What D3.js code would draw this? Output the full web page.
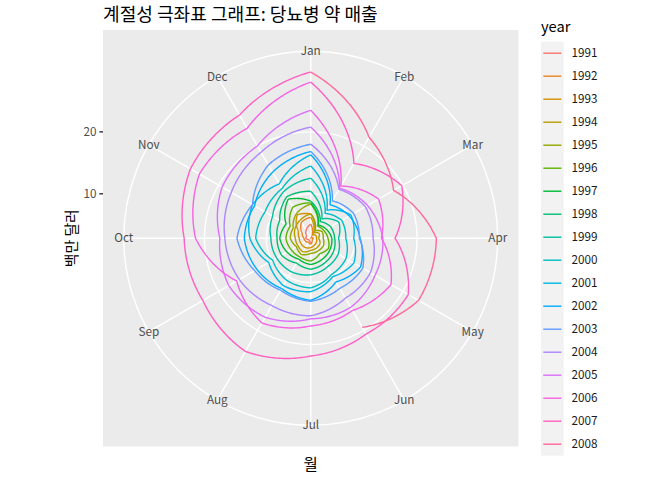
<!DOCTYPE html>
<html>
<head>
<meta charset="utf-8">
<script src="https://cdn.jsdelivr.net/npm/d3@7"></script>
<style>
  html, body { margin: 0; padding: 0; background: #fff; }
  svg text { font-family: "Noto Sans CJK KR", "Noto Sans", sans-serif; }
</style>
</head>
<body>
<svg id="chart" width="672" height="480"></svg>
<script>
// ---- data (fpp2::a10, millions of dollars) ----
const months = ["Jan","Feb","Mar","Apr","May","Jun","Jul","Aug","Sep","Oct","Nov","Dec"];
const years = [1991,1992,1993,1994,1995,1996,1997,1998,1999,2000,2001,2002,2003,2004,2005,2006,2007,2008];
const rTicks = [10, 20];
const sales1991 = [null,null,null,null,null,null,3.526591,3.180891,3.252221,3.611003,3.565869,4.306371];
const sales1992 = [5.088335,2.814520,2.985811,3.204780,3.127578,3.270523,3.737851,3.558776,3.777202,3.924490,4.386531,5.810549];
const sales1993 = [6.192068,3.450857,3.772307,3.734303,3.905399,4.049687,4.315566,4.562185,4.608662,4.667851,5.093841,7.179962];
const sales1994 = [6.731473,3.841278,4.394076,4.075341,4.540645,4.645615,4.752607,5.350605,5.204455,5.301651,5.773742,6.204593];
const sales1995 = [6.749484,4.216067,4.949349,4.823045,5.194754,5.170787,5.256742,5.855277,5.490729,6.115293,6.088473,7.416598];
const sales1996 = [8.329452,5.069796,5.262557,5.597126,6.110296,5.689161,6.486849,6.300569,6.467476,6.828629,6.649078,8.606937];
const sales1997 = [8.524471,5.277918,5.714303,6.214529,6.411929,6.667716,7.050831,6.704919,7.250988,7.819733,7.398101,10.096233];
const sales1998 = [8.798513,5.918261,6.534493,6.675736,7.064201,7.383381,7.813496,7.431892,8.275117,8.260441,8.596156,10.558939];
const sales1999 = [10.391416,6.421535,8.062619,7.297739,7.936916,8.165323,8.717420,9.070964,9.177113,9.251887,9.933136,11.532974];
const sales2000 = [12.511462,7.457199,8.591191,8.474000,9.386803,9.560399,10.834295,10.643751,9.908162,11.710041,11.340151,12.079132];
const sales2001 = [14.497581,8.049275,10.312891,9.753358,10.850382,9.961719,11.443601,11.659239,10.647060,12.652134,13.674466,12.965735];
const sales2002 = [16.300269,9.053485,10.002449,10.788750,12.106705,10.954101,12.844566,12.196500,12.854748,13.542004,13.287640,15.134918];
const sales2003 = [16.828350,9.800215,10.816994,10.654223,12.512323,12.161210,12.998046,12.517276,13.268658,14.733622,13.669382,16.503966];
const sales2004 = [18.003768,11.938030,12.997900,12.882645,13.943447,13.989472,15.339097,15.370764,16.142005,16.685754,17.636728,18.869325];
const sales2005 = [20.778723,12.154552,13.402392,14.459239,14.795102,15.705248,15.829550,17.554701,18.100864,17.496668,19.347265,20.031291];
const sales2006 = [23.486694,12.536987,15.467018,14.233539,17.783058,16.291602,16.980282,18.612189,16.623343,21.430241,23.575517,23.334206];
const sales2007 = [28.038383,16.763869,19.792754,16.427305,21.000742,20.681002,21.834890,23.930204,22.930357,23.263340,25.250030,25.806090];
const sales2008 = [29.665356,21.654285,18.264945,23.107677,22.912510,19.431740,null,null,null,null,null,null];
const salesByYear = [sales1991,sales1992,sales1993,sales1994,sales1995,sales1996,sales1997,sales1998,sales1999,
  sales2000,sales2001,sales2002,sales2003,sales2004,sales2005,sales2006,sales2007,sales2008];

// ---- ggplot-like hue palette (polar LUV) ----
function hclToHex(h, c, l) {
  const Xn = 95.047, Yn = 100.0, Zn = 108.883;
  const hr = h * Math.PI / 180;
  const U = c * Math.cos(hr), V = c * Math.sin(hr);
  const Y = l > 7.999592 ? Yn * Math.pow((l + 16) / 116, 3) : Yn * l / 903.3;
  const t = Xn + Yn + Zn;
  const x = Xn / t, y = Yn / t;
  const un = 2 * x / (6 * y - x + 1.5), vn = 4.5 * y / (6 * y - x + 1.5);
  const u = U / (13 * l) + un, v = V / (13 * l) + vn;
  const X = 9.0 * Y * u / (4 * v);
  const Z = -X / 3 - 5 * Y + 3 * Y / v;
  const xx = X / 100, yy = Y / 100, zz = Z / 100;
  const lin = [
    3.240479 * xx - 1.537150 * yy - 0.498535 * zz,
    -0.969256 * xx + 1.875992 * yy + 0.041556 * zz,
    0.055648 * xx - 0.204043 * yy + 1.057311 * zz
  ];
  const g = lin.map(vv => {
    const s = vv <= 0.0031308 ? 12.92 * vv : 1.055 * Math.pow(vv, 1 / 2.4) - 0.055;
    return Math.max(0, Math.min(1, s));
  });
  return d3.rgb(g[0] * 255, g[1] * 255, g[2] * 255).formatHex();
}
const nY = years.length;
const colors = years.map((_, i) => hclToHex(15 + i * 360 / nY, 100, 65));

// ---- series construction (each year closes onto next January) ----
const series = years.map((yr, i) => {
  const pts = [];
  salesByYear[i].forEach((v, m) => { if (v != null) pts.push({ t: m / 12, v }); });
  if (i + 1 < nY && salesByYear[i + 1][0] != null) pts.push({ t: 1, v: salesByYear[i + 1][0] });
  return { year: yr, color: colors[i], pts };
});

// ---- layout ----
const svg = d3.select("#chart");
const panel = { x: 103, y: 30, w: 415.5, h: 416.5 };
const W = Math.min(panel.w, panel.h);
const cx = panel.x + panel.w / 2, cy = panel.y + panel.h / 2;

const allV = series.flatMap(s => s.pts.map(p => p.v));
const rScale = d3.scaleLinear().domain(d3.extent(allV)).range([0, 0.4 * W]);
const tScale = d3.scaleLinear().domain([0, 1]).range([0, 2 * Math.PI]);
const rOuter = 0.45 * W;
const px = (t, r) => cx + r * Math.sin(tScale(t));
const py = (t, r) => cy - r * Math.cos(tScale(t));

// background
svg.append("rect").attr("x", panel.x).attr("y", panel.y).attr("width", panel.w).attr("height", panel.h)
  .attr("fill", "#EBEBEB");

const grid = svg.append("g").attr("stroke", "#fff").attr("stroke-width", 1.42).attr("fill", "none");
months.forEach((m, i) => {
  const t = i / 12;
  grid.append("line").attr("x1", cx).attr("y1", cy).attr("x2", px(t, rOuter)).attr("y2", py(t, rOuter));
});
rTicks.map(v => rScale(v)).concat([rOuter]).forEach(r => {
  grid.append("circle").attr("cx", cx).attr("cy", cy).attr("r", r);
});

// lines (munched in data space)
const lineGen = d3.line().x(d => d[0]).y(d => d[1]);
const gLines = svg.append("g").attr("fill", "none").attr("stroke-width", 1.42)
  .attr("stroke-linejoin", "round").attr("stroke-linecap", "butt");
series.forEach(s => {
  const coords = [];
  for (let k = 0; k < s.pts.length; k++) {
    const a = s.pts[k];
    if (k === 0) { coords.push([px(a.t, rScale(a.v)), py(a.t, rScale(a.v))]); continue; }
    const b = s.pts[k - 1];
    const n = 40;
    for (let j = 1; j <= n; j++) {
      const f = j / n;
      const t = b.t + (a.t - b.t) * f;
      const v = b.v + (a.v - b.v) * f;
      coords.push([px(t, rScale(v)), py(t, rScale(v))]);
    }
  }
  gLines.append("path").attr("d", lineGen(coords)).attr("stroke", s.color);
});

// theta labels
const fontAxis = 11.73;
svg.append("g").selectAll("text").data(months).join("text")
  .attr("x", (d, i) => px(i / 12, rOuter))
  .attr("y", (d, i) => py(i / 12, rOuter))
  .attr("dy", "0.36em")
  .attr("text-anchor", "middle")
  .attr("font-size", fontAxis)
  .attr("fill", "#4D4D4D")
  .text(d => d);

// r axis (left)
const rAxis = svg.append("g");
rTicks.forEach(v => {
  const y = cy - rScale(v);
  rAxis.append("line").attr("x1", panel.x - 3.67).attr("x2", panel.x).attr("y1", y).attr("y2", y)
    .attr("stroke", "#333333").attr("stroke-width", 1.42);
  rAxis.append("text").attr("x", panel.x - 3.67 - 2.93).attr("y", y).attr("dy", "0.36em")
    .attr("text-anchor", "end").attr("font-size", fontAxis).attr("fill", "#4D4D4D").text(v);
});

// titles (font size fitted to the reference's measured text width)
function fitText(sel, base, target) {
  const w = sel.node().getComputedTextLength();
  if (w > 0) {
    const s = Math.max(base * 0.85, Math.min(base * 1.2, base * target / w));
    sel.attr("font-size", s);
  }
}
const title = svg.append("text").attr("x", panel.x).attr("y", 21).attr("font-size", 17.6).attr("fill", "#000")
  .text("계절성 극좌표 그래프: 당뇨병 약 매출");
fitText(title, 17.6, 275);
svg.append("text").attr("x", cx).attr("y", 470).attr("text-anchor", "middle").attr("font-size", 15.5)
  .attr("fill", "#000").text("월");
const yTitle = svg.append("text").attr("transform", `translate(77,${cy}) rotate(-90)`).attr("text-anchor", "middle")
  .attr("font-size", 14.67).attr("fill", "#000").text("백만 달러");
fitText(yTitle, 14.67, 58);

// legend
const leg = { x: 541, y: 41.7, kw: 22.7, kh: 23 };
const gLeg = svg.append("g");
gLeg.append("text").attr("x", leg.x).attr("y", 31.5).attr("font-size", 14.67).attr("fill", "#000").text("year");
gLeg.append("rect").attr("x", leg.x).attr("y", leg.y).attr("width", leg.kw).attr("height", leg.kh * nY)
  .attr("fill", "#F2F2F2");
series.forEach((s, i) => {
  const y = leg.y + leg.kh * (i + 0.5);
  gLeg.append("line").attr("x1", leg.x + leg.kw * 0.1).attr("x2", leg.x + leg.kw * 0.9)
    .attr("y1", y).attr("y2", y).attr("stroke", s.color).attr("stroke-width", 1.42);
  gLeg.append("text").attr("x", 571.5).attr("y", y).attr("dy", "0.36em").attr("font-size", fontAxis)
    .attr("fill", "#1A1A1A").text(s.year);
});
</script>
</body>
</html>
